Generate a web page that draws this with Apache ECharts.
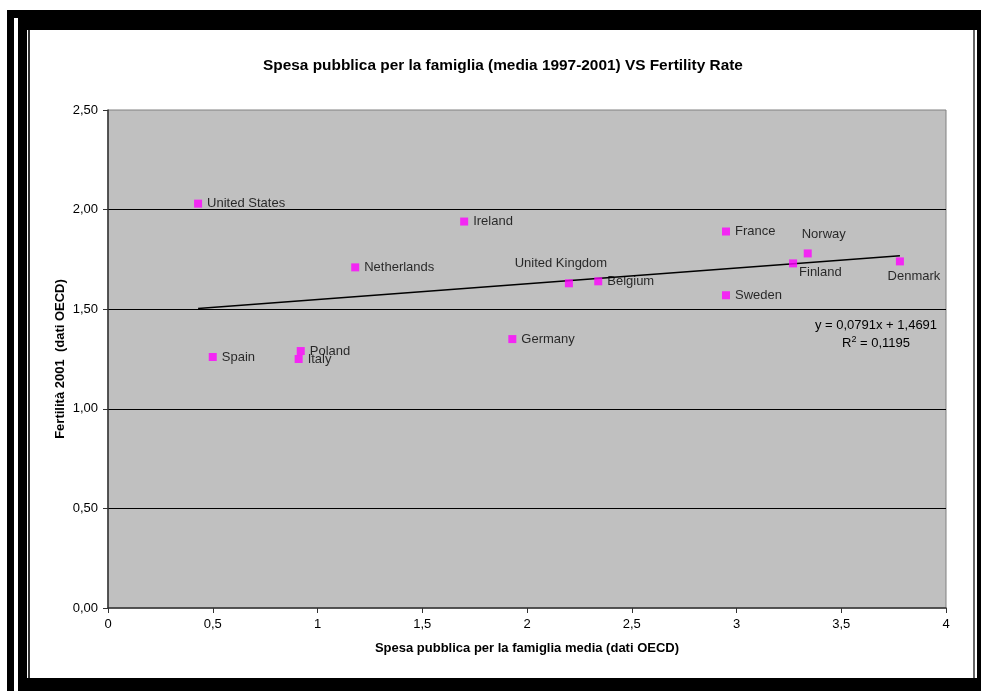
<!DOCTYPE html>
<html>
<head>
<meta charset="utf-8">
<script src="https://cdn.jsdelivr.net/npm/echarts@6/dist/echarts.min.js"></script>
<style>html,body{margin:0;padding:0;background:#fff}#c{width:981px;height:691px}</style>
</head>
<body>
<div id="c"></div>
<script>
// ---- data ----
var countries = ['United States','Ireland','Netherlands','Spain','Poland','Italy','Germany','United Kingdom','Belgium','France','Sweden','Norway','Finland','Denmark'];
var spending  = [0.43, 1.70, 1.18, 0.50, 0.92, 0.91, 1.93, 2.20, 2.34, 2.95, 2.95, 3.34, 3.27, 3.78];
var fertility = [2.03, 1.94, 1.71, 1.26, 1.29, 1.25, 1.35, 1.63, 1.64, 1.89, 1.57, 1.78, 1.73, 1.74];
var trendX = [0.43, 3.78];
var trendY = [1.503, 1.768];
var equationText = 'y = 0,0791x + 1,4691';
var r2Text = '0,1195';

// ---- label placement (style) ----
var labelPlace = {
  'United Kingdom': {position: 'top', distance: 9},
  'Norway': {position: 'top', distance: 9},
  'Finland': {position: 'right', distance: 2},
  'Denmark': {position: 'bottom', distance: 5}
};
var labelShift = {
  'United Kingdom': [-8, 0],
  'Norway': [16, 0],
  'Finland': [0, 9.5],
  'Denmark': [14, 0]
};

var FONT = '"Liberation Sans", Arial, sans-serif';
var pts = countries.map(function (n, i) {
  var item = {name: n, value: [spending[i], fertility[i]]};
  var lp = labelPlace[n];
  if (lp) item.label = lp;
  return item;
});

function comma(v, d) { return (d == null ? String(v) : v.toFixed(d)).replace('.', ','); }

var chart = echarts.init(document.getElementById('c'), null, {renderer: 'canvas'});
chart.setOption({
  backgroundColor: '#ffffff',
  animation: false,
  title: {
    text: 'Spesa pubblica per la famiglia (media 1997-2001) VS Fertility Rate',
    left: 498, textAlign: 'center', top: 53,
    textStyle: {fontFamily: FONT, fontSize: 15.4, fontWeight: 'bold', color: '#000'}
  },
  grid: {
    left: 108, right: 35, top: 110, bottom: 83,
    show: true, backgroundColor: '#C0C0C0', borderColor: '#808080', borderWidth: 1
  },
  xAxis: {
    type: 'value', min: 0, max: 4, interval: 0.5,
    name: 'Spesa pubblica per la famiglia media (dati OECD)',
    nameLocation: 'middle', nameGap: 34,
    nameTextStyle: {fontFamily: FONT, fontSize: 13, fontWeight: 'bold', color: '#000'},
    axisLine: {show: true, onZero: false, lineStyle: {color: '#333', width: 1.5}},
    axisTick: {show: true, length: 5, lineStyle: {color: '#333'}},
    axisLabel: {margin: 10, fontFamily: FONT, fontSize: 13, color: '#000',
      formatter: function (v) { return comma(v); }},
    splitLine: {show: false}
  },
  yAxis: {
    type: 'value', min: 0, max: 2.5, interval: 0.5,
    axisLine: {show: true, onZero: false, lineStyle: {color: '#333', width: 1.5}},
    axisTick: {show: true, length: 5, lineStyle: {color: '#333'}},
    axisLabel: {margin: 10, fontFamily: FONT, fontSize: 13, color: '#000',
      formatter: function (v) { return comma(v, 2); }},
    splitLine: {show: true, showMinLine: false, showMaxLine: false, lineStyle: {color: '#000', width: 1}}
  },
  graphic: [
    {type: 'rect', shape: {x: 7, y: 10, width: 974, height: 8}, style: {fill: '#000'}, z: 100},
    {type: 'rect', shape: {x: 7, y: 10, width: 7, height: 681}, style: {fill: '#000'}, z: 100},
    {type: 'rect', shape: {x: 18, y: 10, width: 963, height: 20}, style: {fill: '#000'}, z: 100},
    {type: 'rect', shape: {x: 18, y: 10, width: 9, height: 681}, style: {fill: '#000'}, z: 100},
    {type: 'rect', shape: {x: 28, y: 30, width: 2, height: 648}, style: {fill: '#333'}, z: 100},
    {type: 'rect', shape: {x: 973, y: 30, width: 2, height: 648}, style: {fill: '#666'}, z: 100},
    {type: 'rect', shape: {x: 977, y: 10, width: 4, height: 681}, style: {fill: '#000'}, z: 100},
    {type: 'rect', shape: {x: 18, y: 678, width: 963, height: 13}, style: {fill: '#000'}, z: 100},
    {type: 'text', x: 60, y: 359, rotation: Math.PI / 2,
      style: {text: 'Fertilità 2001  (dati OECD)', fontFamily: FONT, fontSize: 13, fontWeight: 'bold',
        fill: '#000', textAlign: 'center', textVerticalAlign: 'middle'}, z: 50},
    {type: 'text', x: 876, y: 325,
      style: {text: equationText, fontFamily: FONT, fontSize: 13, fill: '#000',
        textAlign: 'center', textVerticalAlign: 'middle'}, z: 50},
    {type: 'text', x: 876, y: 343,
      style: {text: '{a|R}{s|2}{a| = ' + r2Text + '}', textAlign: 'center', textVerticalAlign: 'middle',
        rich: {a: {fontFamily: FONT, fontSize: 13, fill: '#000'},
               s: {fontFamily: FONT, fontSize: 9, fill: '#000', padding: [0, 0, 7, 0]}}}, z: 50}
  ],
  series: [
    {
      type: 'line', data: trendX.map(function (x, i) { return [x, trendY[i]]; }),
      showSymbol: false, symbol: 'none', lineStyle: {color: '#000', width: 1.5}, z: 3, silent: true
    },
    {
      type: 'scatter', data: pts, symbol: 'rect', symbolSize: 8,
      itemStyle: {color: '#FF00FF'}, z: 4,
      label: {show: true, position: 'right', distance: 5, formatter: '{b}',
        fontFamily: FONT, fontSize: 13, color: '#000'},
      labelLayout: function (params) {
        var s = labelShift[countries[params.dataIndex]];
        return s ? {dx: s[0], dy: s[1]} : {};
      }
    }
  ]
});
</script>
</body>
</html>
